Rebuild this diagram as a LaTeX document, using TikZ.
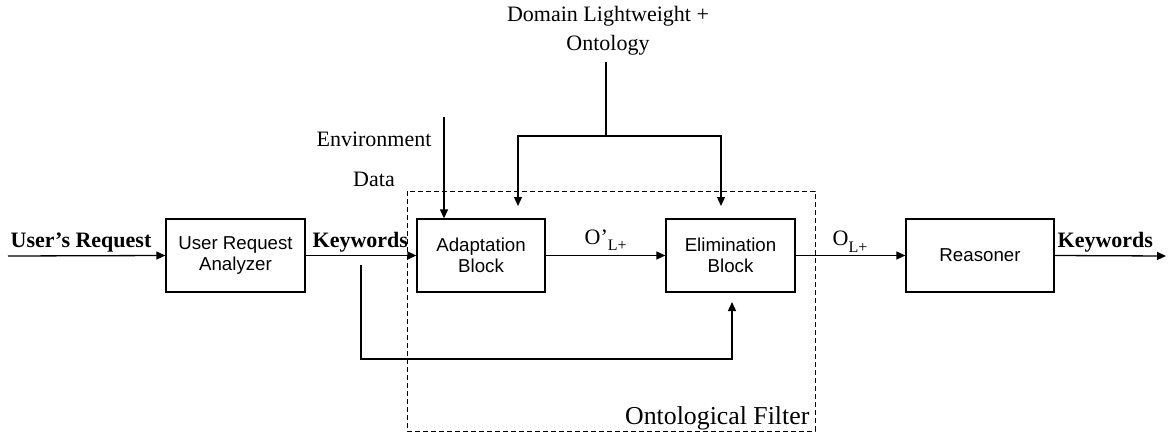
\documentclass[tikz,border=0pt]{standalone}
\usepackage{fontspec}
\setmainfont{Liberation Serif}
\setsansfont{Liberation Sans}
\usetikzlibrary{arrows.meta,positioning}

\begin{document}
\begin{tikzpicture}[x=1pt,y=-1pt,line width=1.3pt,>={Triangle[length=9pt,width=8pt]},
	block/.style={rectangle, draw, minimum height=73pt, align=center, inner sep=0pt, font=\sffamily\fontsize{18.7}{21}\selectfont},
	lbl/.style={inner sep=0pt, anchor=base west, font=\fontsize{22}{24}\selectfont},
	kwlbl/.style={lbl, font=\bfseries\fontsize{22}{24}\selectfont}]
		\useasboundingbox (0,0) rectangle (1168,434);
		% blocks
		\node[block, minimum width=139pt] (ura) at (235.5,255.5) {User Request\\Analyzer};
		\node[block, minimum width=128pt] (adapt) at (481,255.5) {Adaptation\\Block};
		\node[block, minimum width=129pt] (elim) at (730.5,255.5) {Elimination\\Block};
		\node[block, minimum width=148pt] (reas) at (980,255.5) {Reasoner};
		% filter
		\draw[line width=1pt,dash pattern=on 5pt off 3pt] (407,191) rectangle (815,431);
		\node[lbl, anchor=base east, font=\fontsize{25.8}{28}\selectfont] (filter) at (810,424) {Ontological Filter};
		% labels
		\node[kwlbl] (req) at (10,247) {User’s Request};
		\node[kwlbl] (kw) at (312,247) {Keywords};
		\node[kwlbl] (kwout) at (1057,247) {Keywords};
		\node[lbl] (oprime) at (584,244) {O’\raisebox{-6pt}{\fontsize{16}{16}\selectfont L+}};
		\node[lbl] (ol) at (832,245) {O\raisebox{-7pt}{\fontsize{16}{16}\selectfont L+}};
		\node[inner sep=0pt, font=\fontsize{22}{24}\selectfont] (env) at (374,139) {Environment};
		\node[inner sep=0pt, font=\fontsize{22}{24}\selectfont] (data) at (374,179) {Data};
		\node[inner sep=0pt, align=center, font=\fontsize{22}{29}\selectfont] (onto) at (608,31) {Domain Lightweight +\\Ontology};
		% free ends
		\coordinate (in) at (8,256);
		\coordinate (out) at (1166,256);
		\coordinate (envtop) at (444,117);
		\coordinate (ontobot) at (606,62);
		\coordinate (split) at (606,136);
		\coordinate (toadapt) at (518,206);
		\coordinate (toelim) at (721,206);
		\coordinate (tap) at (361,265);
		\coordinate (fb) at (732,302);
		\path[->]
			(in) edge (ura.west)
			(ura.east) edge (adapt.west)
			(adapt.east) edge (elim.west)
			(elim.east) edge (reas.west)
			(reas.east) edge (out);
		\draw[->] (envtop) -- (adapt.north -| envtop);
		\draw (ontobot) -- (split);
		\draw[->] (split) -| (toadapt);
		\draw[->] (split) -| (toelim);
		\draw[->] (tap) -- ++(0,94) -| (fb);
	\end{tikzpicture}
\end{document}
